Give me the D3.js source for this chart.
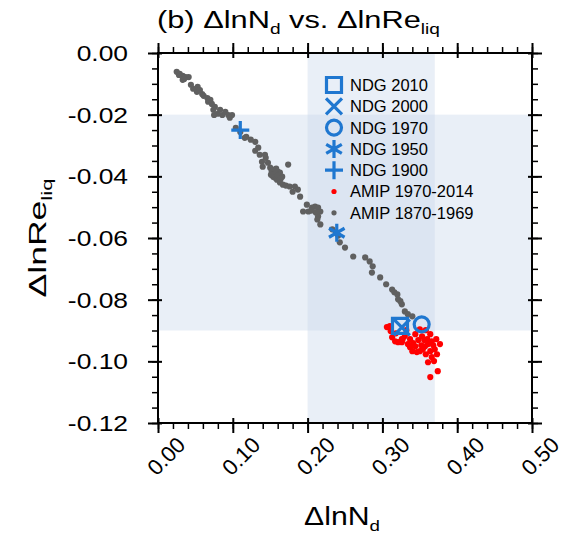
<!DOCTYPE html>
<html>
<head>
<meta charset="utf-8">
<script src="https://cdn.jsdelivr.net/npm/d3@7"></script>
<style>
  body { margin: 0; background: #fff; }
  text { font-family: "Liberation Sans", Arial, Helvetica, sans-serif; fill: #000; }
</style>
</head>
<body>
<svg id="chart" width="561" height="537"></svg>
<script>
// Axis ticks
const xTickValues = [0, 0.1, 0.2, 0.3, 0.4, 0.5];
const xTickLabels = ["0.00", "0.10", "0.20", "0.30", "0.40", "0.50"];
const yTickValues = [0, -0.02, -0.04, -0.06, -0.08, -0.10, -0.12];
const yTickLabels = ["0.00", "-0.02", "-0.04", "-0.06", "-0.08", "-0.10", "-0.12"];

// Shaded ranges
const ndRange = [0.2, 0.37];
const reRange = [-0.09, -0.02];

// AMIP 1870-1969
const amipEarlyX = [0.025,0.029,0.033,0.037,0.041,0.033,0.047,0.052,0.053,0.059,
  0.061,0.066,0.067,0.072,0.076,0.075,0.080,0.086,0.090,0.094,
  0.099,0.104,0.118,0.124,0.130,0.130,0.136,0.143,0.139,0.140,
  0.147,0.150,0.152,0.156,0.160,0.163,0.159,0.154,0.166,0.156,
  0.159,0.174,0.163,0.167,0.176,0.183,0.180,0.190,0.199,0.194,
  0.201,0.206,0.210,0.214,0.217,0.214,0.217,0.243,0.261,0.277,
  0.287,0.286,0.297,0.313,0.320,0.321,0.324,0.326,0.330,0.340,
  0.028,0.044,0.056,0.070,0.083,0.074,0.110,0.116,0.134,0.144,
  0.155,0.160,0.151,0.158,0.164,0.171,0.187,0.205,0.211,0.213,
  0.233,0.241,0.250,0.283,0.305,0.316,0.334,0.238,0.035,0.096];
const amipEarlyY = [-0.0061,-0.0068,-0.0074,-0.0078,-0.0078,-0.0087,-0.0116,-0.0126,-0.0110,-0.0133,
  -0.0139,-0.0146,-0.0158,-0.0165,-0.0175,-0.0201,-0.0197,-0.0201,-0.0191,-0.0201,
  -0.0201,-0.0243,-0.0272,-0.0281,-0.0288,-0.0317,-0.0330,-0.0330,-0.0353,-0.0369,
  -0.0356,-0.0372,-0.0385,-0.0378,-0.0385,-0.0388,-0.0395,-0.0401,-0.0401,-0.0404,
  -0.0411,-0.0362,-0.0420,-0.0427,-0.0433,-0.0433,-0.0450,-0.0466,-0.0492,-0.0514,
  -0.0514,-0.0501,-0.0498,-0.0501,-0.0514,-0.0530,-0.0556,-0.0614,-0.0660,-0.0663,
  -0.0692,-0.0712,-0.0728,-0.0767,-0.0783,-0.0799,-0.0805,-0.0815,-0.0838,-0.0854,
  -0.0071,-0.0103,-0.0120,-0.0152,-0.0184,-0.0184,-0.0256,-0.0275,-0.0307,-0.0340,
  -0.0391,-0.0398,-0.0395,-0.0375,-0.0408,-0.0430,-0.0443,-0.0511,-0.0517,-0.0540,
  -0.0572,-0.0592,-0.0631,-0.0676,-0.0750,-0.0776,-0.0847,-0.0582,-0.0084,-0.0210];

// AMIP 1970-2014
const amipLateX = [0.306,0.310,0.313,0.317,0.321,0.326,0.330,0.327,0.337,0.337,
  0.340,0.344,0.346,0.350,0.353,0.354,0.357,0.360,0.361,0.364,
  0.366,0.368,0.370,0.366,0.361,0.374,0.364,0.377,0.372,0.364,
  0.350,0.344,0.334,0.326,0.318,0.358,0.348,0.356,0.373,0.341,
  0.332,0.358,0.311,0.352,0.369];
const amipLateY = [-0.0889,-0.0886,-0.0922,-0.0935,-0.0938,-0.0938,-0.0918,-0.0928,-0.0928,-0.0954,
  -0.0967,-0.0951,-0.0970,-0.0967,-0.0919,-0.0961,-0.0951,-0.0928,-0.0944,-0.0967,
  -0.0935,-0.0948,-0.0961,-0.0986,-0.1003,-0.1032,-0.1051,-0.0944,-0.0928,-0.0912,
  -0.0896,-0.0912,-0.0944,-0.0928,-0.0909,-0.0977,-0.0931,-0.0931,-0.0977,-0.0941,
  -0.0899,-0.0899,-0.0902,-0.0948,-0.0999];

// Nudged runs
const ndgNames = ["NDG 2010", "NDG 2000", "NDG 1970", "NDG 1950", "NDG 1900"];
const ndgShapes = ["square", "cross", "circle", "asterisk", "plus"];
const ndgX = [0.3235, 0.326, 0.3525, 0.239, 0.110];
const ndgY = [-0.0885, -0.089, -0.088, -0.0583, -0.025];

const amipNames = ["AMIP 1970-2014", "AMIP 1870-1969"];

const blue = "#1f77d0", red = "#ff0000", gray = "#606060";

const svg = d3.select("#chart");
const plotL = 158, plotR = 532, plotT = 53, plotB = 423;
const x = d3.scaleLinear().domain([0, 0.5]).range([plotL, plotR]);
const y = d3.scaleLinear().domain([-0.12, 0]).range([plotB, plotT]);

// Shaded bands
const bands = svg.append("g");
bands.append("rect")
  .attr("x", x(ndRange[0])).attr("y", plotT)
  .attr("width", x(ndRange[1]) - x(ndRange[0])).attr("height", plotB - plotT)
  .attr("fill", "#c8d6ec").attr("fill-opacity", 0.4);
bands.append("rect")
  .attr("x", plotL).attr("y", y(reRange[1]))
  .attr("width", plotR - plotL).attr("height", y(reRange[0]) - y(reRange[1]))
  .attr("fill", "#c8d6ec").attr("fill-opacity", 0.4);

// Marker shapes
function markerPath(shape, s) {
  const p = d3.path();
  if (shape === "square") {
    p.rect(-s, -s, 2 * s, 2 * s);
  } else if (shape === "cross") {
    p.moveTo(-s, -s); p.lineTo(s, s); p.moveTo(-s, s); p.lineTo(s, -s);
  } else if (shape === "circle") {
    p.moveTo(s, 0); p.arc(0, 0, s, 0, 2 * Math.PI);
  } else if (shape === "asterisk") {
    [90, 30, 150].forEach(a => {
      const r = a * Math.PI / 180;
      p.moveTo(-s * Math.cos(r), -s * Math.sin(r));
      p.lineTo(s * Math.cos(r), s * Math.sin(r));
    });
  } else if (shape === "plus") {
    p.moveTo(-s, 0); p.lineTo(s, 0); p.moveTo(0, -s); p.lineTo(0, s);
  }
  return p.toString();
}
const markerSize = { square: 7.5, cross: 8, circle: 7.5, asterisk: 9, plus: 9 };

// Scatter points
const early = amipEarlyX.map((v, i) => [v, amipEarlyY[i]]);
const late = amipLateX.map((v, i) => [v, amipLateY[i]]);
svg.append("g").selectAll("circle").data(early).join("circle")
  .attr("cx", d => x(d[0])).attr("cy", d => y(d[1])).attr("r", 3.1).attr("fill", gray);
svg.append("g").selectAll("circle").data(late).join("circle")
  .attr("cx", d => x(d[0])).attr("cy", d => y(d[1])).attr("r", 3.1).attr("fill", red);

const ndg = ndgNames.map((n, i) => ({ name: n, shape: ndgShapes[i], x: ndgX[i], y: ndgY[i] }));
svg.append("g").selectAll("path").data(ndg.slice().reverse()).join("path")
  .attr("transform", d => `translate(${x(d.x)},${y(d.y)})`)
  .attr("d", d => markerPath(d.shape, markerSize[d.shape]))
  .attr("fill", "none").attr("stroke", blue).attr("stroke-width", 3.2);

// Legend
const legX = 334, legTextX = 350, legY0 = 85, legDy = 21.3;
const leg = svg.append("g");
ndg.forEach((d, i) => {
  const cy = legY0 + i * legDy;
  leg.append("path").attr("transform", `translate(${legX},${cy})`)
    .attr("d", markerPath(d.shape, markerSize[d.shape]))
    .attr("fill", "none").attr("stroke", blue).attr("stroke-width", 3.2);
  leg.append("text").attr("x", legTextX).attr("y", cy).attr("dy", "0.36em")
    .attr("font-size", 16.5).text(d.name);
});
amipNames.forEach((n, i) => {
  const cy = legY0 + (ndg.length + i) * legDy;
  leg.append("circle").attr("cx", legX).attr("cy", cy).attr("r", 2.6)
    .attr("fill", i === 0 ? red : gray);
  leg.append("text").attr("x", legTextX).attr("y", cy).attr("dy", "0.36em")
    .attr("font-size", 16.5).text(n);
});

// Axes: outward ticks on all four sides, major ticks also poke inside
const xMinor = d3.range(0, 0.5001, 0.02);
const yMinor = d3.range(-0.12, 0.0001, 0.005);
function styleAxis(g, w) {
  g.select(".domain").remove();
  g.selectAll("line").attr("stroke", "#000").attr("stroke-width", w);
  g.selectAll("text").remove();
}
[["bottom", plotB], ["top", plotT]].forEach(([side, pos]) => {
  const mk = side === "bottom" ? d3.axisBottom : d3.axisTop;
  svg.append("g").attr("transform", `translate(0,${pos})`)
    .call(mk(x).tickValues(xMinor).tickSize(6)).call(g => styleAxis(g, 1.5));
  svg.append("g").attr("transform", `translate(0,${pos})`)
    .call(mk(x).tickValues(xTickValues).tickSize(10)).call(g => styleAxis(g, 2));
  svg.append("g").attr("transform", `translate(0,${pos})`)
    .call(mk(x).tickValues(xTickValues).tickSize(-5)).call(g => styleAxis(g, 2));
});
[["left", plotL], ["right", plotR]].forEach(([side, pos]) => {
  const mk = side === "left" ? d3.axisLeft : d3.axisRight;
  svg.append("g").attr("transform", `translate(${pos},0)`)
    .call(mk(y).tickValues(yMinor).tickSize(6)).call(g => styleAxis(g, 1.5));
  svg.append("g").attr("transform", `translate(${pos},0)`)
    .call(mk(y).tickValues(yTickValues).tickSize(10)).call(g => styleAxis(g, 2));
  svg.append("g").attr("transform", `translate(${pos},0)`)
    .call(mk(y).tickValues(yTickValues).tickSize(-4)).call(g => styleAxis(g, 2));
});

// Frame
svg.append("rect").attr("x", plotL).attr("y", plotT)
  .attr("width", plotR - plotL).attr("height", plotB - plotT)
  .attr("fill", "none").attr("stroke", "#000").attr("stroke-width", 2);

// Tick labels
svg.append("g").selectAll("g").data(yTickValues).join("g")
  .attr("transform", d => `translate(128,${y(d)}) scale(1.2,1)`)
  .append("text").attr("text-anchor", "end").attr("dy", "0.36em")
  .attr("font-size", 22).text((d, i) => yTickLabels[i]);
svg.append("g").selectAll("g").data(xTickValues).join("g")
  .attr("transform", d => `translate(${x(d) + 8},456) rotate(-45)`)
  .append("text").attr("text-anchor", "middle").attr("dy", "0.36em")
  .attr("font-size", 22).text((d, i) => xTickLabels[i]);

// Texts with subscripts, stretched horizontally to a target width
function subText(g, parts, size) {
  const t = g.append("text").attr("font-size", size);
  let shifted = false;
  parts.forEach(([s, sub]) => {
    const ts = t.append("tspan").text(s);
    if (sub) {
      ts.attr("font-size", size * 0.62).attr("dy", size * 0.25);
      shifted = true;
    } else if (shifted) {
      ts.attr("dy", -size * 0.25);
      shifted = false;
    }
  });
  return t;
}
function fitted(tx, ty, rot, parts, size, width, anchor) {
  const g = svg.append("g");
  const t = subText(g, parts, size);
  const w = t.node().getBBox().width;
  const sx = width / w;
  t.attr("x", anchor === "middle" ? -w / 2 : 0);
  g.attr("transform", `translate(${tx},${ty}) rotate(${rot}) scale(${sx},1)`);
  return g;
}
fitted(157, 28, 0, [["(b) \u0394lnN", false], ["d", true], [" vs. \u0394lnRe", false], ["liq", true]], 23.5, 283, "start");
fitted(342, 525, 0, [["\u0394lnN", false], ["d", true]], 25, 76, "middle");
fitted(46, 238, -90, [["\u0394lnRe", false], ["liq", true]], 24, 119, "middle");
</script>
</body>
</html>
